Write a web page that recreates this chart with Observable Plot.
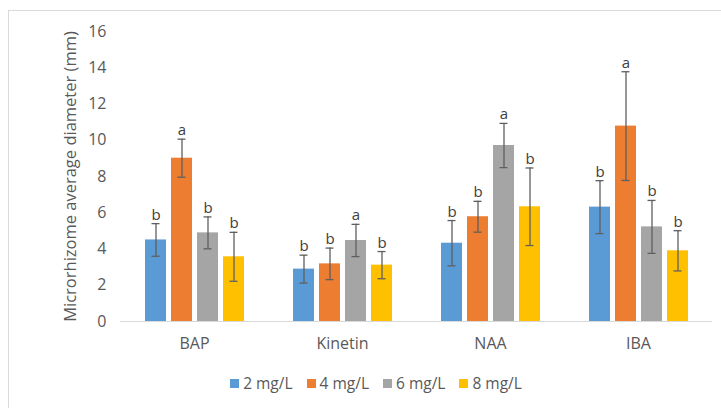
<!DOCTYPE html>
<html>
<head>
<meta charset="utf-8">
<script src="https://cdn.jsdelivr.net/npm/d3@7"></script>
<script src="https://cdn.jsdelivr.net/npm/@observablehq/plot@0.6"></script>
<style>
  html, body { margin: 0; padding: 0; background: #fff; width: 721px; height: 408px; overflow: hidden; }
  #frame { position: absolute; left: 8px; top: 10px; width: 740px; height: 420px; border: 1px solid #d9d9d9; box-sizing: border-box; }
  #chart { position: absolute; left: 0; top: 0; }
  #legend { position: absolute; left: 0; top: 372px; width: 752px; display: flex; justify-content: center; gap: 14px;
            font-family: "Open Sans", sans-serif; font-size: 15.5px; color: #595959; }
  .item { display: flex; align-items: center; gap: 4px; }
  .sw { width: 9px; height: 9px; display: inline-block; }
</style>
</head>
<body>
<div id="frame"></div>
<div id="chart"></div>
<div id="legend"></div>
<script>
const categories = ["BAP", "Kinetin", "NAA", "IBA"];
const concentrations = ["2 mg/L", "4 mg/L", "6 mg/L", "8 mg/L"];
const colors = ["#5B9BD5", "#ED7D31", "#A5A5A5", "#FFC000"];
// means per category, ordered by concentration
const means = {
  BAP:     [4.50, 9.01, 4.89, 3.57],
  Kinetin: [2.89, 3.18, 4.47, 3.11],
  NAA:     [4.32, 5.78, 9.71, 6.33],
  IBA:     [6.31, 10.78, 5.22, 3.90]
};
const errors = {
  BAP:     [0.90, 1.05, 0.88, 1.35],
  Kinetin: [0.77, 0.87, 0.89, 0.75],
  NAA:     [1.25, 0.85, 1.22, 2.14],
  IBA:     [1.46, 3.00, 1.46, 1.11]
};
const letters = {
  BAP:     ["b", "a", "b", "b"],
  Kinetin: ["b", "b", "a", "b"],
  NAA:     ["b", "b", "a", "b"],
  IBA:     ["b", "a", "b", "b"]
};
const yTicks = [0, 2, 4, 6, 8, 10, 12, 14, 16];

const data = [];
for (const c of categories) {
  concentrations.forEach((k, i) => {
    const v = means[c][i], e = errors[c][i];
    data.push({cat: c, conc: k, value: v, lo: v - e, hi: v + e, letter: letters[c][i]});
  });
}

const font = "'Open Sans', sans-serif";
const chart = Plot.plot({
  width: 721,
  height: 366,
  marginLeft: 120,
  marginRight: 9,
  marginTop: 31,
  marginBottom: 45,
  style: {fontFamily: font, fontSize: "16px", color: "#595959", background: "transparent"},
  fx: {domain: categories, padding: 0, label: null, tickSize: 0, tickPadding: 16, axis: "bottom"},
  x: {domain: concentrations, paddingInner: 0.2, paddingOuter: 0.87, axis: null},
  y: {domain: [0, 16], ticks: yTicks, tickSize: 0, tickPadding: 14, label: "Microrhizome average diameter (mm)",
      labelAnchor: "center", labelArrow: "none", labelOffset: 56},
  color: {domain: concentrations, range: colors},
  marks: [
    Plot.barY(data, {fx: "cat", x: "conc", y: "value", fill: "conc"}),
    Plot.ruleY([0], {stroke: "#d9d9d9", strokeWidth: 1}),
    Plot.ruleX(data, {fx: "cat", x: "conc", y1: "lo", y2: "hi", stroke: "#5f5f5f", strokeWidth: 1.3}),
    Plot.tickY(data, {fx: "cat", x: "conc", y: "hi", stroke: "#5f5f5f", strokeWidth: 1.3, inset: 6.5}),
    Plot.tickY(data, {fx: "cat", x: "conc", y: "lo", stroke: "#5f5f5f", strokeWidth: 1.3, inset: 6.5}),
    Plot.text(data, {fx: "cat", x: "conc", y: "hi", text: "letter", dy: -4, lineAnchor: "bottom",
      fill: "#404040", fontSize: 15})
  ]
});
chart.querySelectorAll("[aria-label='y-axis label'] text").forEach(t => t.style.fontSize = "16.5px");
document.getElementById("chart").appendChild(chart);

const legend = document.getElementById("legend");
concentrations.forEach((k, i) => {
  const it = document.createElement("div");
  it.className = "item";
  const sw = document.createElement("span");
  sw.className = "sw";
  sw.style.background = colors[i];
  const tx = document.createElement("span");
  tx.textContent = k;
  it.appendChild(sw); it.appendChild(tx);
  legend.appendChild(it);
});
</script>
</body>
</html>
